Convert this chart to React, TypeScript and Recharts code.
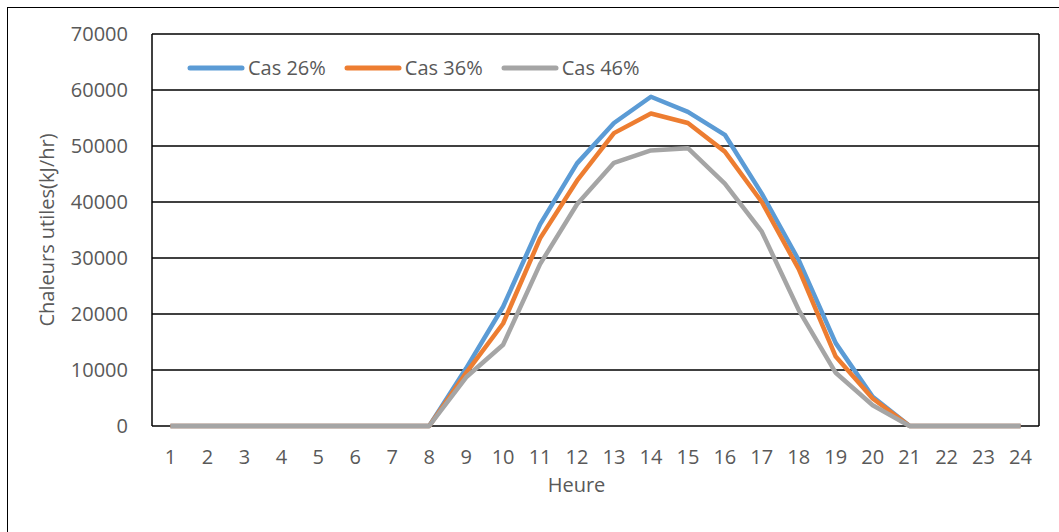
import React from 'react';
import { LineChart, Line, XAxis, YAxis, CartesianGrid, Legend, Label } from 'recharts';

const hours = ['1','2','3','4','5','6','7','8','9','10','11','12','13','14','15','16','17','18','19','20','21','22','23','24'];
const cas26 = [0,0,0,0,0,0,0,0,10300,21300,36000,46900,54100,58800,56100,52000,41500,29600,14800,5200,0,0,0,0];
const cas36 = [0,0,0,0,0,0,0,0,9500,18300,33500,43800,52300,55800,54100,49000,40000,28000,12400,4900,0,0,0,0];
const cas46 = [0,0,0,0,0,0,0,0,8700,14500,28900,39600,47000,49200,49600,43300,34700,20700,9500,3700,0,0,0,0];
const yTicks = [0,10000,20000,30000,40000,50000,60000,70000];

const data = hours.map((h, i) => ({ h, a: cas26[i], b: cas36[i], c: cas46[i] }));

const FONT = '"Open Sans", sans-serif';
const TXT = '#595959';

const LegendContent = (props: any) => {
  const { payload } = props;
  return (
    <div style={{ display: 'flex', alignItems: 'center', fontFamily: FONT, fontSize: 20, color: TXT, whiteSpace: 'nowrap' }}>
      {(payload || []).map((p: any, i: number) => (
        <div key={i} style={{ display: 'flex', alignItems: 'center', marginRight: 18 }}>
          <svg width={58} height={10} style={{ marginRight: 3 }}>
            <line x1={3} y1={5} x2={55} y2={5} stroke={p.color} strokeWidth={5} strokeLinecap="round" />
          </svg>
          <span>{p.value}</span>
        </div>
      ))}
    </div>
  );
};

export default function App() {
  return (
    <div style={{ position: 'absolute', left: 0, top: 0, width: 1059, height: 532, overflow: 'hidden', background: '#fff' }}>
      <div style={{ position: 'absolute', left: 7, top: 7, width: 1200, height: 700, borderLeft: '1px solid #000', borderTop: '1px solid #000' }} />
      <div style={{ position: 'absolute', left: 0, top: 0 }}>
        <LineChart width={1059} height={532} data={data} margin={{ top: 34, right: 20, bottom: 0, left: 0 }}>
          <CartesianGrid
            stroke="#000"
            strokeWidth={1.5}
            verticalCoordinatesGenerator={({ offset }: any) => [offset.left, offset.left + offset.width]}
          />
          <XAxis
            dataKey="h"
            height={106}
            padding={{ left: 18.5, right: 18.5 }}
            axisLine={false}
            tickLine={false}
            tickSize={0}
            tickMargin={24}
            interval={0}
            tick={{ fill: TXT, fontSize: 20, fontFamily: FONT }}
          >
            <Label value="Heure" position="insideTop" offset={52} dx={-19} style={{ fill: TXT, fontSize: 20, fontFamily: FONT }} />
          </XAxis>
          <YAxis
            width={152}
            domain={[0, 70000]}
            ticks={yTicks}
            axisLine={false}
            tickLine={false}
            tickSize={0}
            tickMargin={24}
            tick={{ fill: TXT, fontSize: 20, fontFamily: FONT }}
          >
            <Label value="Chaleurs utiles(kJ/hr)" position="center" angle={-90} dx={-29} style={{ fill: TXT, fontSize: 20, fontFamily: FONT, textAnchor: 'middle' }} />
          </YAxis>
          <Legend
            layout="horizontal"
            verticalAlign="middle"
            align="center"
            content={<LegendContent />}
            wrapperStyle={{ position: 'absolute', left: 187, top: 54, width: 'auto', height: 'auto' }}
          />
          <Line type="linear" dataKey="a" name="Cas 26%" stroke="#5B9BD5" strokeWidth={4.5} dot={false} isAnimationActive={false} strokeLinejoin="round" />
          <Line type="linear" dataKey="b" name="Cas 36%" stroke="#ED7D31" strokeWidth={4.5} dot={false} isAnimationActive={false} strokeLinejoin="round" />
          <Line type="linear" dataKey="c" name="Cas 46%" stroke="#A5A5A5" strokeWidth={4.5} dot={false} isAnimationActive={false} strokeLinejoin="round" />
        </LineChart>
      </div>
    </div>
  );
}
